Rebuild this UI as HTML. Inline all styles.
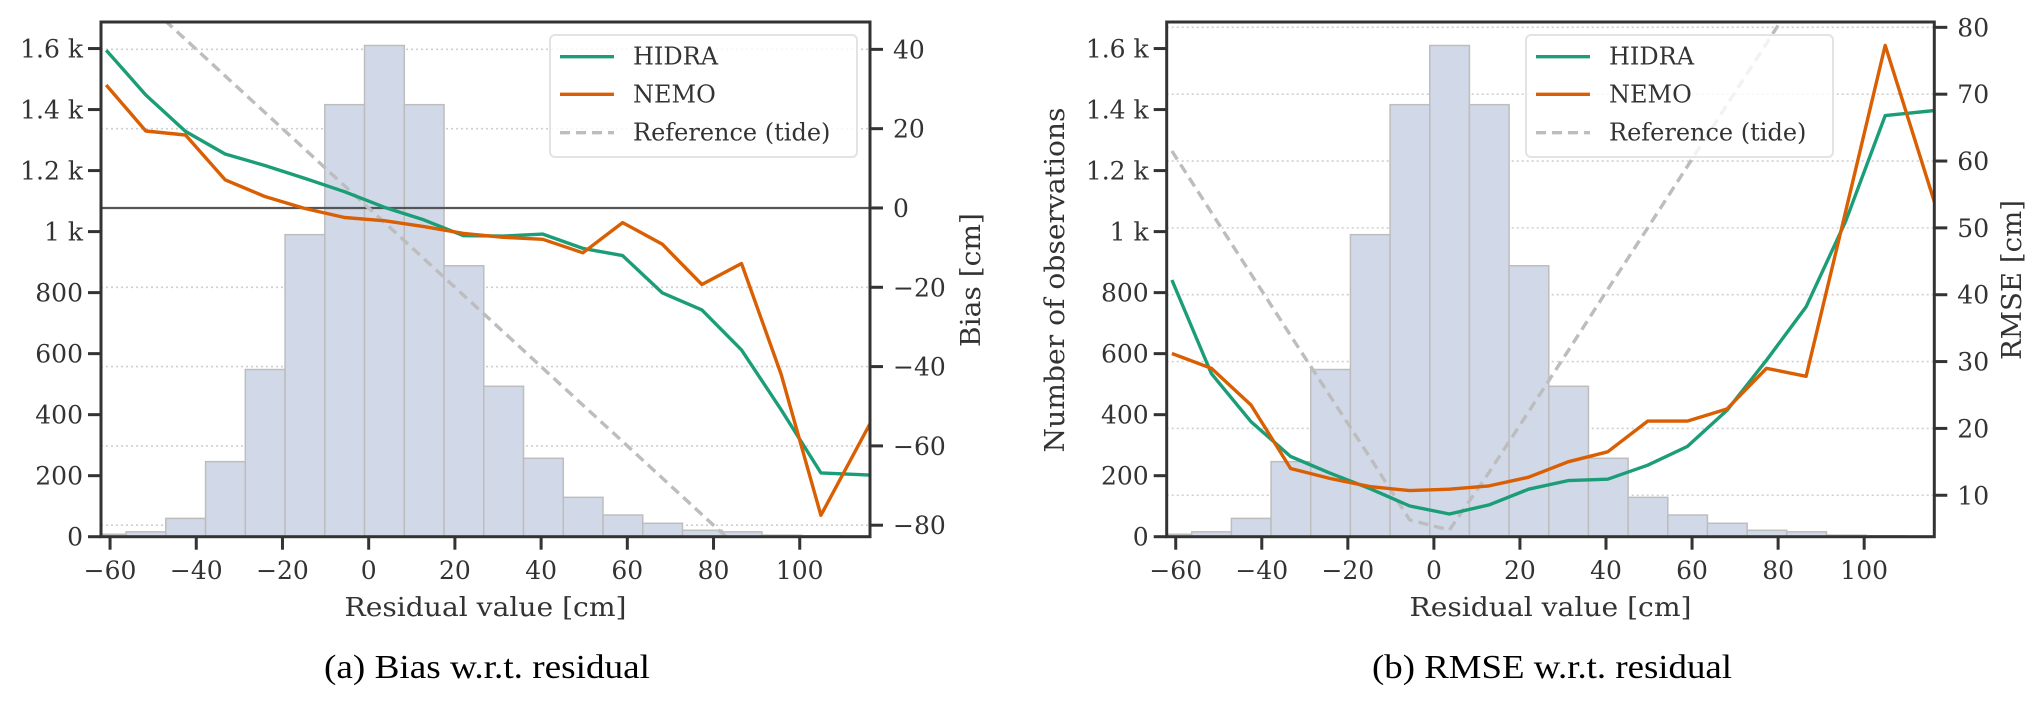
<!DOCTYPE html>
<html><head><meta charset="utf-8"><style>
html,body{margin:0;padding:0;background:#fff;}
svg{display:block;}
text{font-family:"DejaVu Serif","Liberation Serif",serif;fill:#333;}
.cap{font-family:"Liberation Serif","DejaVu Serif",serif;fill:#000;}
</style></head><body>
<svg id="fig" width="2043" height="704" viewBox="0 0 2043 704" xmlns="http://www.w3.org/2000/svg"></svg>
<script>
// ---- data ----
const binStart = -65.5;
const binWidth = 9.22;
const counts = [8,16,60,246,548,990,1416,1610,1416,888,493,257,129,71,44,21,16,5,3,2];
const centers = [-60.9,-51.7,-42.5,-33.3,-24.1,-14.9,-5.6,3.6,12.8,22.0,31.2,40.4,49.7,58.9,68.1,77.3,86.5,95.7,104.9,117.0];
const hidraBias = [39.8,28.5,19.3,13.6,10.7,7.5,4.1,0.2,-3.0,-7.0,-7.1,-6.6,-10.2,-12.0,-21.4,-25.7,-35.8,-50.9,-66.8,-67.4];
const nemoBias = [31.0,19.4,18.4,7.1,2.9,-0.1,-2.4,-3.2,-4.7,-6.4,-7.4,-7.9,-11.3,-3.7,-9.1,-19.3,-14.0,-42.0,-77.5,-53.0];
const refBias = [60.9,51.7,42.5,33.3,24.1,14.9,5.6,-3.6,-12.8,-22.0,-31.2,-40.4,-49.7,-58.9,-68.1,-77.3,-86.5,-95.7,-104.9,-117.0];
const hidraRmse = [42.2,28.2,21.0,15.8,13.3,11.0,8.4,7.2,8.55,10.9,12.2,12.4,14.5,17.3,22.7,30.2,38.2,51.0,66.8,67.6];
const nemoRmse = [31.2,29.0,23.5,14.0,12.5,11.3,10.7,10.9,11.4,12.7,15.0,16.5,21.1,21.1,22.9,29.0,27.8,52.5,77.3,52.5];
const refRmse = [61.5,52.3,43.1,33.9,24.8,15.7,6.3,4.8,13.4,22.5,31.6,40.8,50.0,59.2,68.4,77.6,86.8,96.0,105.0,117.0];
const xTicks = [-60,-40,-20,0,20,40,60,80,100];
const countTicks = [0,200,400,600,800,1000,1200,1400,1600];
const countTickLabels = ["0","200","400","600","800","1 k","1.2 k","1.4 k","1.6 k"];
const biasTicks = [-80,-60,-40,-20,0,20,40];
const rmseTicks = [10,20,30,40,50,60,70,80];

const NS = "http://www.w3.org/2000/svg";
const svg = document.getElementById('fig');
function mk(tag, attrs, parent){const e=document.createElementNS(NS,tag);for(const k in attrs)e.setAttribute(k,attrs[k]);(parent||svg).appendChild(e);return e;}
const fmt = v => (v<0?"\u2212"+(-v):String(v));

function panel(P){
  const L=P.left,R=P.right,T=22,B=536.7;
  const xmin=-62.1,xmax=116.3;
  const sx=v=>L+(v-xmin)/(xmax-xmin)*(R-L);
  const sc=v=>B-v/1687*(B-T);
  const sy=v=>B-(v-P.ymin)/(P.ymax-P.ymin)*(B-T);
  const g=mk('g',{});
  
  
  const cp=mk('clipPath',{id:P.id+'clip'},g);
  mk('rect',{x:L,y:T,width:R-L,height:B-T},cp);
  P.rticks.forEach(t=>{
    if(P.zeroLine&&t===0)return;
    const gl=mk('line',{x1:L,x2:R,y1:sy(t),y2:sy(t),stroke:'#cfcfcf','stroke-width':1.6,'stroke-dasharray':'2,3'},g);
    
    
  });
  const cg=mk('g',{'clip-path':'url(#'+P.id+'clip)'},g);
  counts.forEach((c,i)=>{
    const x0=sx(binStart+i*binWidth),x1=sx(binStart+(i+1)*binWidth);
    const r=mk('rect',{x:x0,y:sc(c),width:x1-x0,height:B-sc(c),fill:'#d1d9e8',stroke:'#bdbdbd','stroke-width':1.5},cg);
    
    
  });
  if(P.zeroLine){
    const z=mk('line',{x1:L,x2:R,y1:sy(0),y2:sy(0),stroke:'#555','stroke-width':2.2},cg);
    
    
  }
  const series=[[P.ref,'#bdbdbd','10,6','reference-line'],[P.hidra,'#1b9e77','','hidra-line'],[P.nemo,'#d95f02','','nemo-line']];
  series.forEach(s=>{
    const d=s[0].map((v,i)=>(i?'L':'M')+sx(centers[i]).toFixed(1)+','+sy(v).toFixed(1)).join('');
    const p=mk('path',{d:d,fill:'none',stroke:s[1],'stroke-width':3.4,'stroke-dasharray':s[2]||'none','stroke-linejoin':'round'},cg);
    
    
  });
  const sp=mk('rect',{x:L,y:T,width:R-L,height:B-T,fill:'none',stroke:'#333','stroke-width':3},g);
  
  
  xTicks.forEach(t=>{
    mk('line',{x1:sx(t),x2:sx(t),y1:B,y2:B+13,stroke:'#333','stroke-width':3},g);
    const tx=mk('text',{x:sx(t),y:579,'text-anchor':'middle','font-size':25},g);
    tx.textContent=fmt(t);
    
    
  });
  countTicks.forEach((t,i)=>{
    mk('line',{x1:L-13,x2:L,y1:sc(t),y2:sc(t),stroke:'#333','stroke-width':3},g);
    const tx=mk('text',{x:L-18,y:sc(t)+9,'text-anchor':'end','font-size':25},g);
    tx.textContent=countTickLabels[i];
    
    
  });
  P.rticks.forEach(t=>{
    mk('line',{x1:R,x2:R+13,y1:sy(t),y2:sy(t),stroke:'#333','stroke-width':3},g);
    const tx=mk('text',{x:R+23,y:sy(t)+9,'font-size':25},g);
    tx.textContent=fmt(t);
    
    
  });
  const xl=mk('text',{x:(L+R)/2,y:616,'text-anchor':'middle','font-size':26,textLength:282,lengthAdjust:'spacingAndGlyphs'},g);
  xl.textContent='Residual value [cm]';
  
  
  const rl=mk('text',{x:0,y:0,'text-anchor':'middle','font-size':27,textLength:P.rlabelW,lengthAdjust:'spacingAndGlyphs',transform:'translate('+P.rlabelX+',280) rotate(-90)'},g);
  rl.textContent=P.rlabel;
  
  
  if(P.llabel){
    const ll=mk('text',{x:0,y:0,'text-anchor':'middle','font-size':27,textLength:345,lengthAdjust:'spacingAndGlyphs',transform:'translate(1064,280) rotate(-90)'},g);
    ll.textContent=P.llabel;
    
    
  }
  const lg=mk('g',{},g);
  
  
  mk('rect',{x:P.legX,y:35,width:307,height:122,rx:5,fill:'#fff','fill-opacity':0.8,stroke:'#e3e3e3','stroke-width':2},lg);
  [['HIDRA','#1b9e77','',56.7],['NEMO','#d95f02','',94.3],['Reference (tide)','#bdbdbd','10,6',132.7]].forEach(e=>{
    mk('line',{x1:P.legX+10,x2:P.legX+64,y1:e[3],y2:e[3],stroke:e[1],'stroke-width':3.4,'stroke-dasharray':e[2]||'none'},lg);
    const t=mk('text',{x:P.legX+83,y:e[3]+8,'font-size':24},lg);
    t.textContent=e[0];
    
    
  });
  const cap=mk('text',{class:'cap',x:P.capX,y:678,'text-anchor':'middle','font-size':34,textLength:P.capW,lengthAdjust:'spacingAndGlyphs'},g);
  cap.textContent=P.caption;
  
  
}
panel({id:'bias',left:101,right:870,ymin:-82.9,ymax:46.9,rticks:biasTicks,zeroLine:true,hidra:hidraBias,nemo:nemoBias,ref:refBias,rlabel:'Bias [cm]',rlabelW:134,rlabelX:980,legX:550,caption:'(a) Bias w.r.t. residual',capX:487,capW:326});
panel({id:'rmse',left:1166.7,right:1934.3,ymin:3.8,ymax:80.8,rticks:rmseTicks,zeroLine:false,hidra:hidraRmse,nemo:nemoRmse,ref:refRmse,rlabel:'RMSE [cm]',rlabelW:160,rlabelX:2021,llabel:'Number of observations',legX:1526,caption:'(b) RMSE w.r.t. residual',capX:1552,capW:360});
</script>
</body></html>
